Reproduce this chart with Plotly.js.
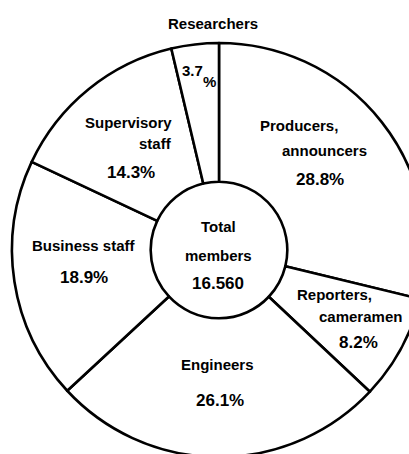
<!DOCTYPE html>
<html>
<head>
<meta charset="utf-8">
<script src="https://cdn.plot.ly/plotly-3.0.1.min.js"></script>
<style>
  html, body { margin: 0; padding: 0; background: #ffffff; overflow: hidden; width: 409px; height: 454px; }
  #chart { width: 440px; height: 460px; }
</style>
</head>
<body>
<div id="chart"></div>
<script>
// ---- data ----
const categories = ['Producers, announcers', 'Reporters, cameramen', 'Engineers', 'Business staff', 'Supervisory staff', 'Researchers'];
const shares = [28.8, 8.2, 26.1, 18.9, 14.3, 3.7];
const centerTitle = ['Total', 'members'];
const totalMembers = '16.560';

// ---- layout helpers (pixel positions of the label lines) ----
const W = 440, H = 460;
const px = x => x / W;
const py = y => 1 - y / H;

// for each category: how to break the name and where each line / the percentage sits
const labelSpec = [
  { breakName: true,  nameXY: [[299, 125], [324, 150]], pctXY: [320, 179] },
  { breakName: true,  nameXY: [[334, 294], [360, 316]], pctXY: [358, 342] },
  { breakName: false, nameXY: [[217, 364]], pctXY: [220, 400] },
  { breakName: false, nameXY: [[84, 245]], pctXY: [84, 277] },
  { breakName: true,  nameXY: [[132, 122], [155, 143]], pctXY: [131, 172], nameAnchor: 'right', rightEdge: 174 },
  { breakName: false, nameXY: [[213, 23]], pctXY: [192, 70], splitPct: [209, 82] }
];

const nameFont = { family: 'Liberation Sans, Arial, sans-serif', size: 15, color: '#000', weight: 'bold' };
const pctFont = { family: 'Liberation Sans, Arial, sans-serif', size: 17, color: '#000', weight: 'bold' };
const annotations = [];
function addText(text, x, y, anchor, font) {
  annotations.push({
    text: text, x: px(x), y: py(y), xref: 'paper', yref: 'paper',
    xanchor: anchor || 'center', yanchor: 'middle', showarrow: false, font: font || nameFont
  });
}

categories.forEach((cat, i) => {
  const spec = labelSpec[i];
  let lines = [cat];
  if (spec.breakName) {
    const c = cat.indexOf(', ');
    if (c >= 0) lines = [cat.slice(0, c + 1), cat.slice(c + 2)];
    else { const s = cat.indexOf(' '); lines = [cat.slice(0, s), cat.slice(s + 1)]; }
  }
  lines.forEach((ln, j) => {
    const [x, y] = spec.nameXY[j];
    if (spec.nameAnchor === 'right') addText(ln, spec.rightEdge, y, 'right');
    else addText(ln, x, y);
  });
  const pct = shares[i].toFixed(1);
  if (spec.splitPct) {
    addText(pct, spec.pctXY[0], spec.pctXY[1], 'center', nameFont);
    addText('%', spec.splitPct[0], spec.splitPct[1], 'center', nameFont);
  } else {
    addText(pct + '%', spec.pctXY[0], spec.pctXY[1], 'center', pctFont);
  }
});

addText(centerTitle[0], 218, 227);
addText(centerTitle[1], 218, 255);
addText(totalMembers, 218, 283, 'center', pctFont);

const trace = {
  type: 'pie',
  labels: categories,
  values: shares,
  sort: false,
  direction: 'clockwise',
  rotation: 0,
  hole: 0.33,
  textinfo: 'none',
  hoverinfo: 'none',
  showlegend: false,
  marker: { colors: categories.map(() => '#ffffff'), line: { color: '#000000', width: 2.6 } },
  domain: { x: [px(12), px(426)], y: [py(457), py(43)] }
};

const layout = {
  width: W, height: H,
  margin: { l: 0, r: 0, t: 0, b: 0 },
  paper_bgcolor: '#ffffff',
  plot_bgcolor: '#ffffff',
  showlegend: false,
  annotations: annotations
};

Plotly.newPlot('chart', [trace], layout, { displayModeBar: false, staticPlot: true });
</script>
</body>
</html>
